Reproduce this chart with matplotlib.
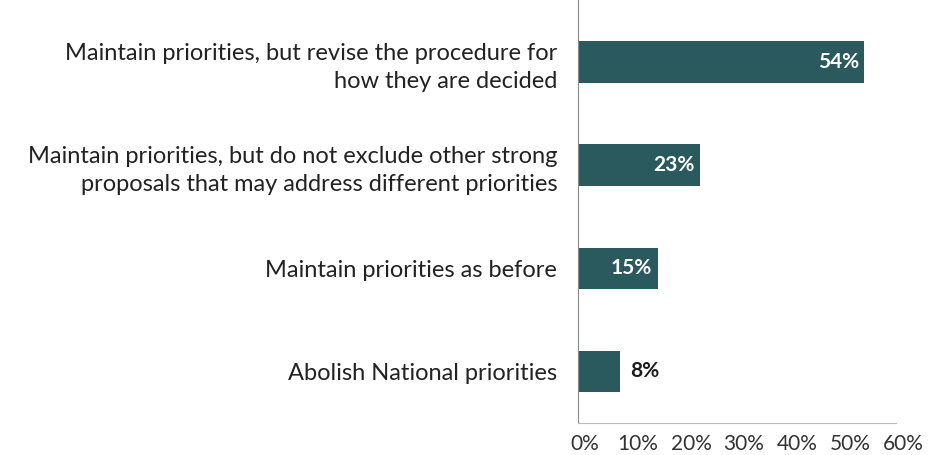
import matplotlib.pyplot as plt
import matplotlib.transforms as mtransforms

categories = [
    "Maintain priorities, but revise the procedure for\nhow they are decided",
    "Maintain priorities, but do not exclude other strong\nproposals that may address different priorities",
    "Maintain priorities as before",
    "Abolish National priorities",
]
values = [54, 23, 15, 8]
ticks = [0, 10, 20, 30, 40, 50, 60]
tick_labels = ["0%", "10%", "20%", "30%", "40%", "50%", "60%"]

plt.rcParams["font.family"] = ["Lato", "DejaVu Sans"]

fig = plt.figure(figsize=(9.51, 4.55), dpi=100)
ax = fig.add_axes([0.6078, 0.0703, 0.3344, 0.9297])

ypos = [3, 2, 1, 0]
bar_color = "#2b5a5e"
ax.barh(ypos, values, height=0.4, color=bar_color)

for y, v in zip(ypos, values):
    if v >= 12:
        ax.text(v - 1.0, y, f"{v}%", ha="right", va="center", color="white",
                fontsize=15, fontweight="bold")
    else:
        ax.text(v + 1.8, y, f"{v}%", ha="left", va="center", color="#1a1a1a",
                fontsize=15, fontweight="bold")

ax.set_xlim(0, 60)
ax.set_ylim(-0.5, 3.6)
ax.set_xticks(ticks)
ax.set_xticklabels(tick_labels, fontsize=15, color="#333333")
ax.set_yticks(ypos)
ax.set_yticklabels(categories, fontsize=17, color="#222222", linespacing=1.4)
ax.tick_params(axis="both", length=0)
ax.tick_params(axis="y", pad=15)
ax.tick_params(axis="x", pad=8)

# labels in the source sit a little right of their ticks
shift = mtransforms.ScaledTranslation(7 / 100, 0, fig.dpi_scale_trans)
for lbl in ax.get_xticklabels():
    lbl.set_transform(lbl.get_transform() + shift)

for s in ["top", "right"]:
    ax.spines[s].set_visible(False)
ax.spines["left"].set_color("#888888")
ax.spines["bottom"].set_color("#bbbbbb")

fig.savefig("out.png", dpi=100)
